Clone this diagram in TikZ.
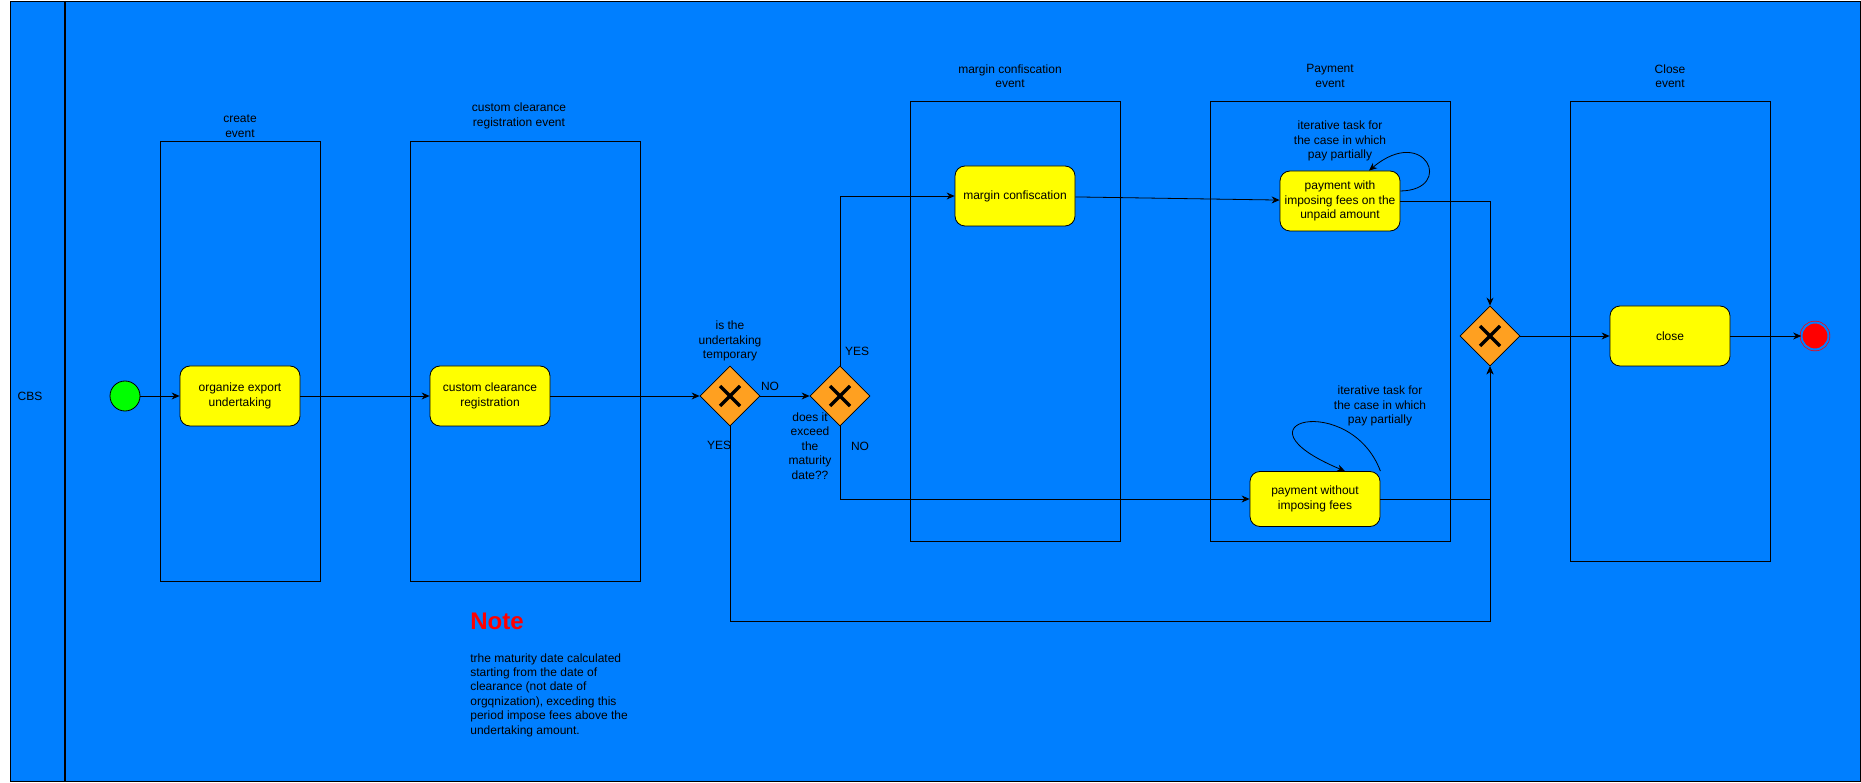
\documentclass[tikz,border=0pt]{standalone}
\usepackage{fontspec}
\setmainfont{Liberation Sans}
\usepackage{tikz}
\usetikzlibrary{positioning,shapes,arrows.meta}
\definecolor{poolblue}{HTML}{007FFF}
\definecolor{taskyellow}{HTML}{FFFF00}
\definecolor{gateorange}{HTML}{FFA020}
\tikzset {
    style event/.style={
        draw=black,
        rectangle, % Set the shape as a rectangle
        inner sep=0pt,
    },
    style task/.style={
        fill=taskyellow,
        draw=black,
        rectangle, % Set the shape as a rectangle
        rounded corners=10pt,
        minimum width=120pt,
        minimum height=60pt,
        inner sep=2pt,
        align=center,
    },
    style gate/.style={
        fill=gateorange,
        draw=black,
        diamond, % Set the shape as a diamond
        aspect=1,
        minimum width=60pt,
        minimum height=60pt,
        inner sep=0pt,
    },
    style start/.style={
        fill=green,
        draw=black,
        circle,
        minimum size=30pt,
        inner sep=0pt,
    },
    style end/.style={
        fill=red,
        draw=red,
        double=poolblue,
        double distance=2pt,
        line width=0.7pt,
        circle,
        minimum size=27pt,
        inner sep=0pt,
    },
    style label/.style={
        inner sep=0pt,
        align=center,
    },
}

\begin{document}
\begin{tikzpicture}
[x=1pt, y=-1pt, font=\fontsize{12}{14.5}\selectfont, line width=0.8pt,
>={Stealth[length=8pt,width=7pt]}]

\useasboundingbox (0,0) rectangle (1861,783);
% pool and lane header
\draw[fill=poolblue] (10,1) rectangle (1860,781);
\draw[line width=1.6pt] (65,1) -- (65,781);
\node[style label] (cbs) at (30,396) {CBS};

% event boxes
\node[style event, minimum width=160pt, minimum height=440pt] (createevt) at (240,361) {};
\node[style event, minimum width=230pt, minimum height=440pt] (customevt) at (525,361) {};
\node[style event, minimum width=210pt, minimum height=440pt] (marginevt) at (1015,321) {};
\node[style event, minimum width=240pt, minimum height=440pt] (paymentevt) at (1330,321) {};
\node[style event, minimum width=200pt, minimum height=460pt] (closeevt) at (1670,331) {};

\node[style label] at (240,126) {create\\event};
\node[style label] at (519,116) {custom clearance\\registration event};
\node[style label] at (1010,76) {margin confiscation\\event};
\node[style label] at (1330,76) {Payment\\event};
\node[style label] at (1670,76) {Close\\event};

% flow nodes
\node[style start] (start) at (125,396) {};
\node[style task] (organize) at (240,396) {organize export\\undertaking};
\node[style task] (customreg) at (490,396) {custom clearance\\registration};
\node[style gate] (gwtemp) at (730,396) {};
\node[style gate] (gwdate) at (840,396) {};
\node[style task] (margin) at (1015,196) {margin confiscation};
\node[style task] (paywith) at (1340,201) {payment with\\imposing fees on the\\unpaid amount};
\node[style task, minimum width=130pt, minimum height=55pt] (paywithout) at (1315,499) {payment without\\imposing fees};
\node[style gate] (gwmerge) at (1490,336) {};
\node[style task] (close) at (1670,336) {close};
\node[style end] (endev) at (1815,336) {};

\foreach \g in {gwtemp,gwdate,gwmerge} {
    \draw[line width=3.4pt] ([shift={(-10pt,-10pt)}]\g.center) -- ([shift={(10pt,10pt)}]\g.center);
    \draw[line width=3.4pt] ([shift={(-10pt,10pt)}]\g.center) -- ([shift={(10pt,-10pt)}]\g.center);
}

\node[style label] at (730,341) {is the\\undertaking\\temporary};
\node[style label] at (770,386) {NO};
\node[style label] at (719,445) {YES};
\node[style label] at (810,446) {does it\\exceed\\the\\maturity\\date??};
\node[style label] at (857,351) {YES};
\node[style label] at (860,446) {NO};
\node[style label] at (1340,141) {iterative task for\\the case in which\\pay partially};
\node[style label] at (1380,406) {iterative task for\\the case in which\\pay partially};

% connectors
\coordinate (yesturn) at (730,621);
\draw[->] (start) -- (organize);
\draw[->] (organize) -- (customreg);
\draw[->] (customreg) -- (gwtemp);
\draw[->] (gwtemp) -- (gwdate);
\draw[->] (gwdate.north) |- (margin.west);
\draw[->] (gwdate.south) |- (paywithout.west);
\draw[->] (gwtemp.south) -- (yesturn) -| (gwmerge.south);
\draw[->] (margin) -- (paywith);
\draw[->] (paywith.east) -| (gwmerge.north);
\draw[->] (paywithout.east) -| (gwmerge.south);
\draw[->] (gwmerge) -- (close);
\draw[->] (close) -- (endev);
\draw[->] ([yshift=10pt]paywith.east) .. controls +(55,-1) and +(56,-47) .. ([xshift=29pt]paywith.north);
\draw[->] (paywithout.north east) .. controls +(-30,-80) and +(-120,-50) .. ([xshift=30pt]paywithout.north);

% note
\node[style label, anchor=west, text=red, font=\fontsize{24}{28}\selectfont\bfseries] (notehead) at (470,621) {Note};
\node[style label, anchor=north west, align=left, font=\fontsize{12}{14.4}\selectfont] (notebody) at (470,653) {trhe maturity date calculated\\starting from the date of\\clearance (not date of\\orgqnization), exceding this\\period impose fees above the\\undertaking amount.};

\end{tikzpicture}
\end{document}
